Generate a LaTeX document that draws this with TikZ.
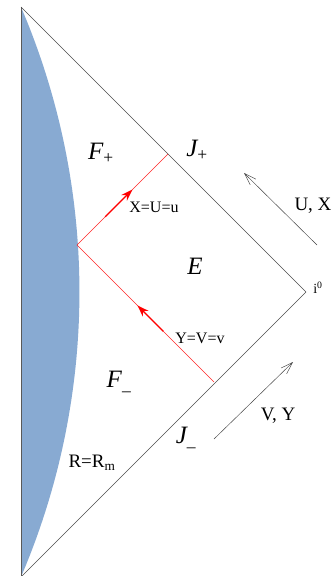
\documentclass[tikz,border=0pt]{standalone}
\usepackage{fontspec}
\setmainfont{Liberation Serif}
\usepackage{xcolor}
\usetikzlibrary{arrows.meta, calc}

\definecolor{wallblue}{HTML}{88AAD2}

\begin{document}
\begin{tikzpicture}[
      x=1pt, y=-1pt,
      edge/.style={draw=black!70, line width=0.5pt},
      wall/.style={fill=wallblue},
      ray/.style={draw=red!85, line width=0.45pt},
      rayarr/.style={red, line width=1.4pt, -{Stealth[length=12pt, width=8pt]}},
      dirarr/.style={black!75, line width=0.45pt, -{Straight Barb[length=12pt, width=8pt]}},
      region/.style={font=\fontsize{25}{27}\selectfont\itshape},
      lab/.style={font=\fontsize{19}{21}\selectfont},
      raylab/.style={font=\fontsize{16}{18}\selectfont}
    ]
    \useasboundingbox (0,0) rectangle (334,576);

    % --- Corners of the diagram ---
    \coordinate (top)    at (21,7);
    \coordinate (io)     at (306,292);
    \coordinate (bot)    at (21,577);
    \coordinate (corner) at (77,245);
    \coordinate (jp)     at (168,154);
    \coordinate (jm)     at (214,382);

    % --- Mirror wall ---
    \fill[wall] (top) arc[start angle=-23.18, end angle=23.18, radius=724] -- cycle;
    \draw[black!65, line width=1pt] (top) -- (bot);

    % --- Null boundaries ---
    \draw[edge] (top) -- (io);
    \draw[edge] (io) -- (bot);

    % --- Reflected ray ---
    \draw[ray] (jm) -- (corner);
    \draw[ray] (corner) -- (jp);
    \draw[rayarr] ($(corner)!0.31!(jp)$) -- ($(corner)!0.61!(jp)$);
    \draw[rayarr] ($(corner)!0.63!(jm)$) -- ($(corner)!0.44!(jm)$);

    % --- Direction arrows ---
    \coordinate (uxtail) at (317,245);
    \coordinate (uxtip)  at (244,173);
    \coordinate (vytail) at (214,439);
    \coordinate (vytip)  at (293,362);
    \draw[dirarr] (uxtail) -- (uxtip);
    \draw[dirarr] (vytail) -- (vytip);

    % --- Labels ---
    \node[region] (fplus)  at (101,153) {F\textsubscript{\upshape +}};
    \node[region] (jplus)  at (197,150) {J\textsubscript{\upshape +}};
    \node[region] (ereg)   at (195,266) {E};
    \node[region] (fminus) at (119,382) {F\textsubscript{\upshape \_}};
    \node[region] (jminus) at (186,438) {J\textsubscript{\upshape \_}};
    \node[lab]    (uxlab)  at (313,206) {U, X};
    \node[lab]    (vylab)  at (278,416) {V, Y};
    \node[lab]    (rmlab)  at (92,463)  {R=R\textsubscript{m}};
    \node[raylab] (xlab)   at (154,207) {X=U=u};
    \node[raylab] (ylab)   at (200,338) {Y=V=v};
    \node[font=\fontsize{14}{16}\selectfont] (inf) at (318,288) {i\textsuperscript{0}};
  \end{tikzpicture}
\end{document}
